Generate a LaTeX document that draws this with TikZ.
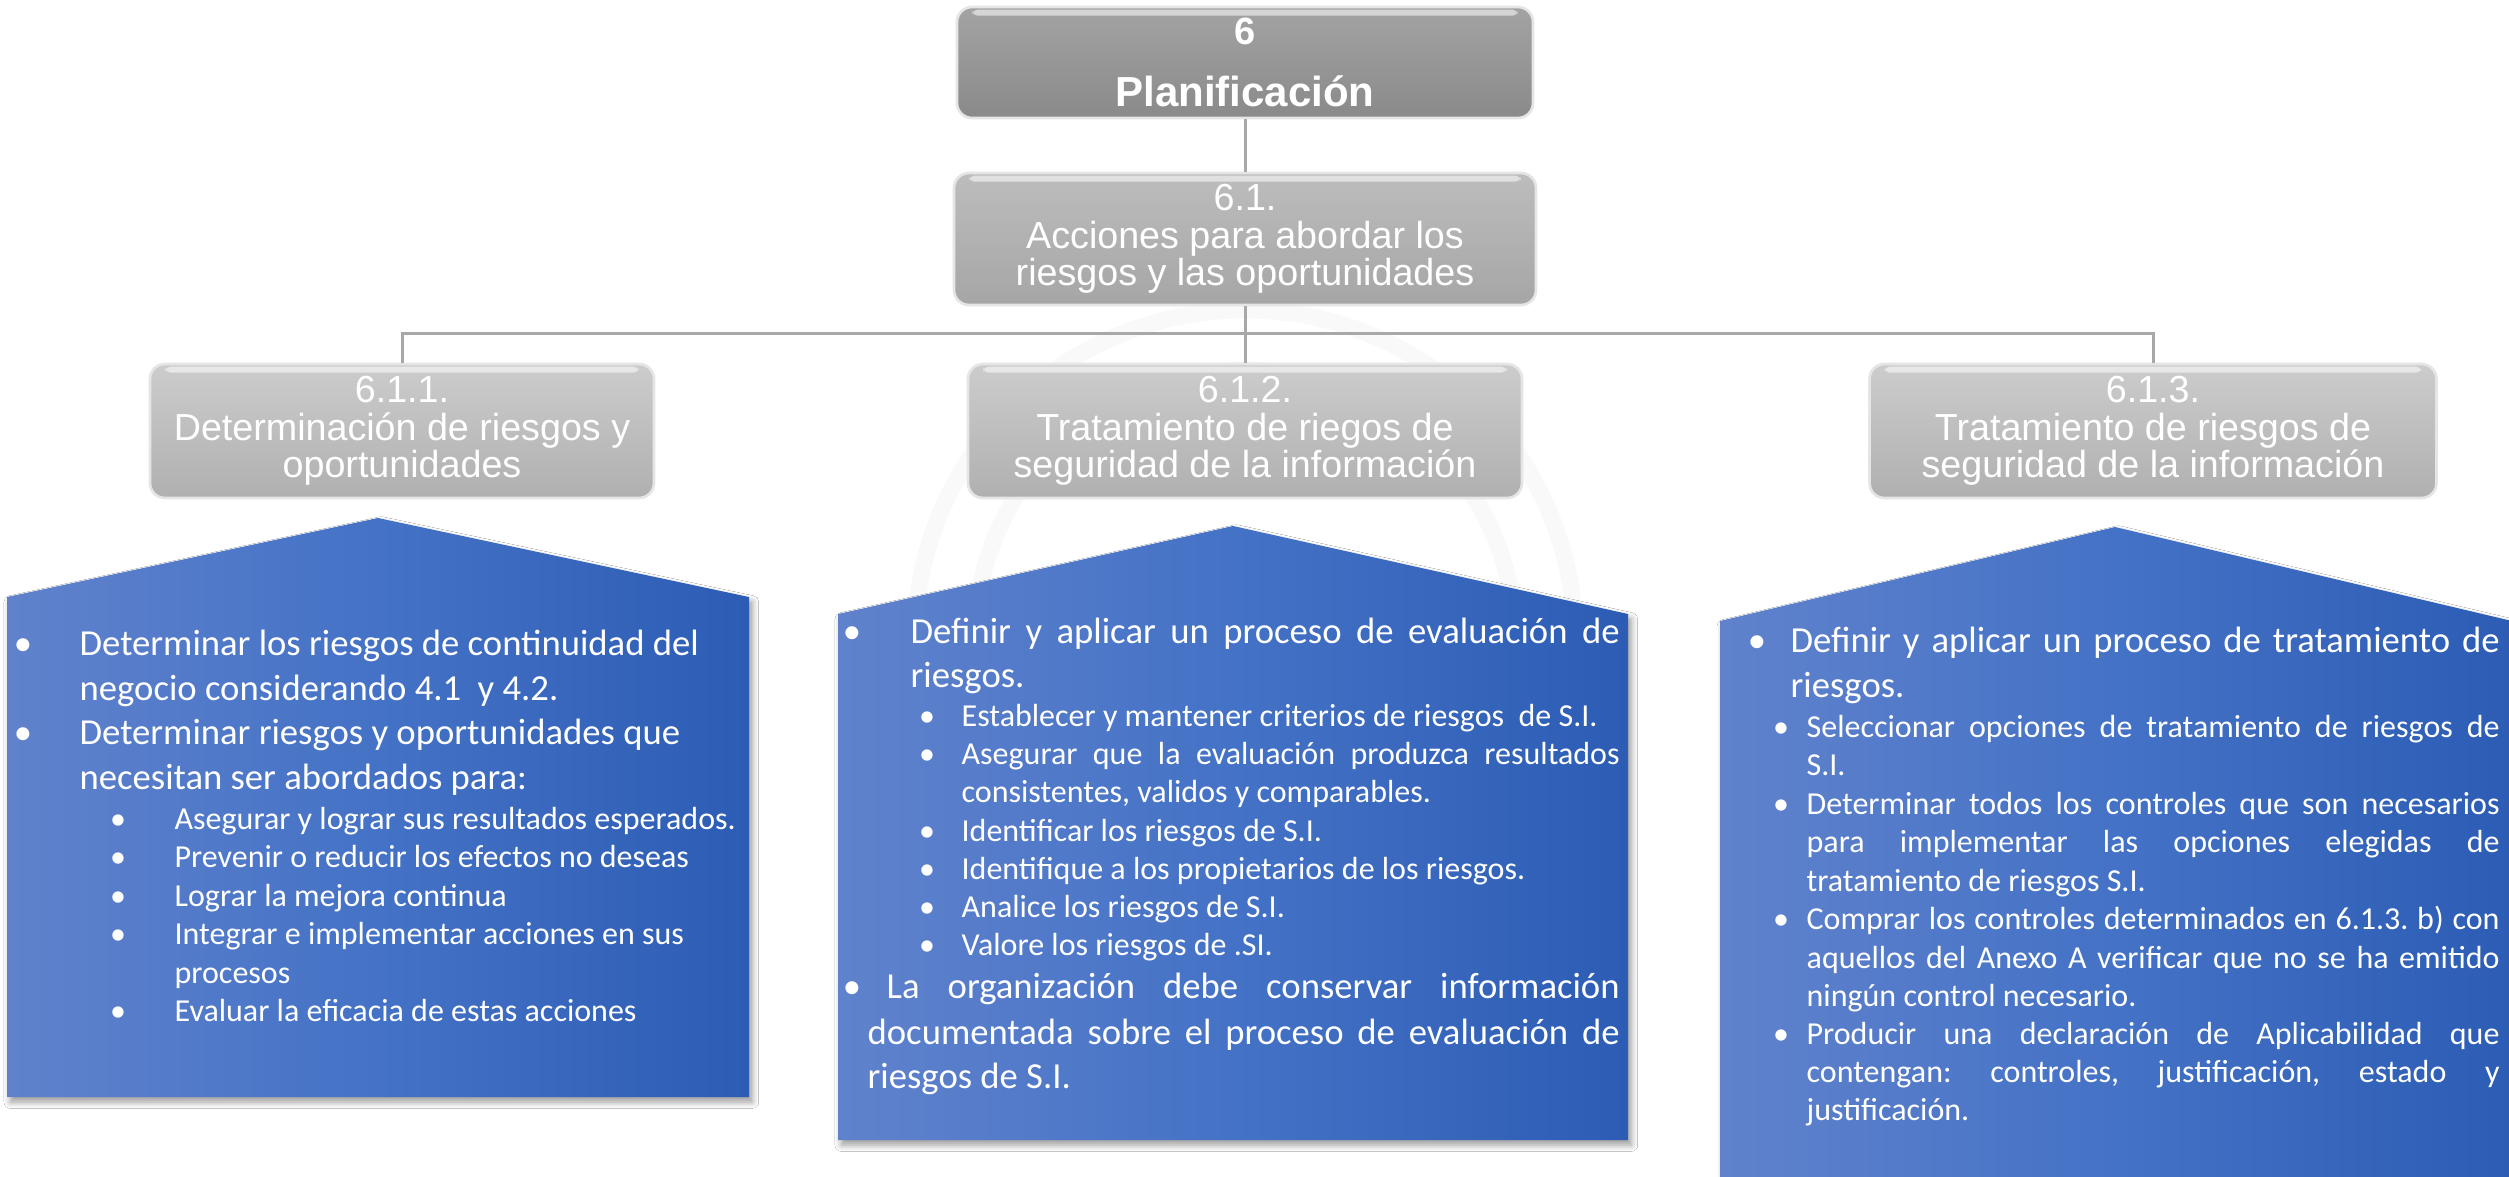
\documentclass[tikz,border=0pt]{standalone}
\usepackage{fontspec}
\setmainfont{Carlito}
\newfontfamily\arialf{Liberation Sans}
\usetikzlibrary{shadows.blur}
\definecolor{bL}{RGB}{96,130,204}
\definecolor{bM}{RGB}{68,114,198}
\definecolor{bR}{RGB}{44,92,180}
\definecolor{conn}{RGB}{168,168,168}
\newcommand\jl[2]{\makebox[#1][s]{#2}}
\frenchspacing
\begin{document}
\frenchspacing
\begin{tikzpicture}[x=0.3pt,y=-0.3pt,
  gbox/.style={rounded corners=4.5pt, draw=white!80!gray, line width=0.8pt, text=white, align=center, inner sep=0pt,
    font=\arialf\fontsize{11.3pt}{11.25pt}\selectfont},
  conline/.style={draw=conn, line width=0.9pt},
  house/.style={left color=bL, right color=bR, middle color=bM,
    blur shadow={shadow xshift=1pt, shadow yshift=-1.5pt, shadow blur steps=6, shadow opacity=40}},
  mtx/.style={anchor=base west, inner sep=0pt, text=white, font=\frenchspacing\fontsize{11pt}{13pt}\selectfont},
  stx/.style={anchor=base west, inner sep=0pt, text=white, font=\frenchspacing\fontsize{9.6pt}{11.5pt}\selectfont},
  mbul/.style={anchor=base, inner sep=0pt, text=white, font=\fontsize{11pt}{13pt}\selectfont},
  sbul/.style={anchor=base, inner sep=0pt, text=white, font=\fontsize{9.6pt}{11.5pt}\selectfont},
  hilite/.style={fill=white, opacity=0.55}
]
\useasboundingbox (0,0) rectangle (2509,1176);
\clip (0,0) rectangle (2509,1176);
\fill[white] (0,0) rectangle (2509,1176);

% faint watermark rings
\draw[gray!5, line width=5pt] (1245,640) circle[radius=330];
\draw[gray!5, line width=5pt] (1245,640) circle[radius=270];

% gray boxes
\node[gbox, top color=black!36, bottom color=black!46, minimum width=172.8pt, minimum height=33.3pt,
  font=\arialf\bfseries\fontsize{12.6pt}{18.6pt}\selectfont] (n6) at (1245,62.5)
  {{\fontsize{11.4pt}{18.6pt}\selectfont 6}\\Planificación};
\node[gbox, top color=black!26, bottom color=black!35, minimum width=174.6pt, minimum height=39.6pt] (n61) at (1245,239)
  {6.1.\\Acciones para abordar los\\riesgos y las oportunidades};
\node[gbox, top color=black!20, bottom color=black!31, minimum width=151.2pt, minimum height=40.2pt] (n611) at (402,431)
  {6.1.1.\\Determinación de riesgos y\\oportunidades};
\node[gbox, top color=black!20, bottom color=black!31, minimum width=166.2pt, minimum height=40.2pt] (n612) at (1245,431)
  {6.1.2.\\Tratamiento de riegos de\\seguridad de la información};
\node[gbox, top color=black!20, bottom color=black!31, minimum width=170.1pt, minimum height=40.2pt] (n613) at (2153,431)
  {6.1.3.\\Tratamiento de riesgos de\\seguridad de la información};

\foreach \n in {n6,n61,n611,n612,n613}{
  \fill[hilite, rounded corners=1.5pt] ([xshift=5pt,yshift=-1.2pt]\n.north west) rectangle ([xshift=-5pt,yshift=-3pt]\n.north east);
}

% connectors
\coordinate (hb) at (1245,333);
\draw[conline] (n6.south) -- (n61.north);
\draw[conline] (n61.south) -- (n612.north);
\draw[conline] (n611.north) |- (hb) -| (n613.north);

% blue house shapes
\path[house] (7,597) -- (378,518) -- (749,597) -- (749,1097) -- (7,1097) -- cycle;
\path[house] (838,614) -- (1233,526) -- (1628,614) -- (1628,1140) -- (838,1140) -- cycle;
\path[house] (1720,621) -- (2115,527) -- (2512,621) -- (2512,1200) -- (1720,1200) -- cycle;

% shape 1 text
\node[mbul] (a1b) at (23,655) {•};
\node[mtx] (a1) at (79,655) {Determinar los riesgos de continuidad del};
\node[mtx] (a2) at (79,700) {negocio considerando 4.1~ y 4.2.};
\node[mbul] (a3b) at (23,744) {•};
\node[mtx] (a3) at (79,744) {Determinar riesgos y oportunidades que};
\node[mtx] (a4) at (79,789) {necesitan ser abordados para:};
\node[sbul] (a5b) at (118,829) {•};
\node[stx] (a5) at (174,829) {Asegurar y lograr sus resultados esperados.};
\node[sbul] (a6b) at (118,867.5) {•};
\node[stx] (a6) at (174,867.5) {Prevenir o reducir los efectos no deseas};
\node[sbul] (a7b) at (118,906) {•};
\node[stx] (a7) at (174,906) {Lograr la mejora continua};
\node[sbul] (a8b) at (118,944.5) {•};
\node[stx] (a8) at (174,944.5) {Integrar e implementar acciones en sus};
\node[stx] (a9) at (174,983) {procesos};
\node[sbul] (a10b) at (118,1021.5) {•};
\node[stx] (a10) at (174,1021.5) {Evaluar la eficacia de estas acciones};

% shape 2 text
\node[mbul] (b1b) at (852,643) {•};
\node[mtx] (b1) at (910,643) {\jl{212.7pt}{Definir y aplicar un proceso de evaluación de}};
\node[mtx] (b2) at (910,687) {riesgos.};
\node[sbul] (b3b) at (927,726) {•};
\node[stx] (b3) at (961,726) {Establecer y mantener criterios de riesgos~ de S.I.};
\node[sbul] (b4b) at (927,764) {•};
\node[stx] (b4) at (961,764) {\jl{197.4pt}{Asegurar que la evaluación produzca resultados}};
\node[stx] (b5) at (961,802) {consistentes, validos y comparables.};
\node[sbul] (b6b) at (927,841) {•};
\node[stx] (b6) at (961,841) {Identificar los riesgos de S.I.};
\node[sbul] (b7b) at (927,879) {•};
\node[stx] (b7) at (961,879) {Identifique a los propietarios de los riesgos.};
\node[sbul] (b8b) at (927,917) {•};
\node[stx] (b8) at (961,917) {Analice los riesgos de S.I.};
\node[sbul] (b9b) at (927,955) {•};
\node[stx] (b9) at (961,955) {Valore los riesgos de .SI.};
\node[mbul] (b10b) at (852,998) {•};
\node[mtx] (b10) at (886,998) {\jl{219.9pt}{La organización debe conservar información}};
\node[mtx] (b11) at (867,1044) {\jl{225.6pt}{documentada sobre el proceso de evaluación de}};
\node[mtx] (b12) at (867,1088) {riesgos de S.I.};

% shape 3 text
\node[mbul] (c1b) at (1757,652) {•};
\node[mtx] (c1) at (1790,652) {\jl{212.7pt}{Definir y aplicar un proceso de tratamiento de}};
\node[mtx] (c2) at (1790,697) {riesgos.};
\node[sbul] (c3b) at (1781,737) {•};
\node[stx] (c3) at (1806,737) {\jl{207.9pt}{Seleccionar opciones de tratamiento de riesgos de}};
\node[stx] (c4) at (1806,775) {S.I.};
\node[sbul] (c5b) at (1781,814) {•};
\node[stx] (c5) at (1806,814) {\jl{207.9pt}{Determinar todos los controles que son necesarios}};
\node[stx] (c6) at (1806,852) {\jl{207.9pt}{para implementar las opciones elegidas de}};
\node[stx] (c7) at (1806,891) {tratamiento de riesgos S.I.};
\node[sbul] (c8b) at (1781,929) {•};
\node[stx] (c8) at (1806,929) {\jl{207.9pt}{Comprar los controles determinados en 6.1.3. b) con}};
\node[stx] (c9) at (1806,968) {\jl{207.9pt}{aquellos del Anexo A verificar que no se ha emitido}};
\node[stx] (c10) at (1806,1006) {ningún control necesario.};
\node[sbul] (c11b) at (1781,1044) {•};
\node[stx] (c11) at (1806,1044) {\jl{207.9pt}{Producir una declaración de Aplicabilidad que}};
\node[stx] (c12) at (1806,1082) {\jl{207.9pt}{contengan: controles, justificación, estado y}};
\node[stx] (c13) at (1806,1120) {justificación.};
\end{tikzpicture}
\end{document}
